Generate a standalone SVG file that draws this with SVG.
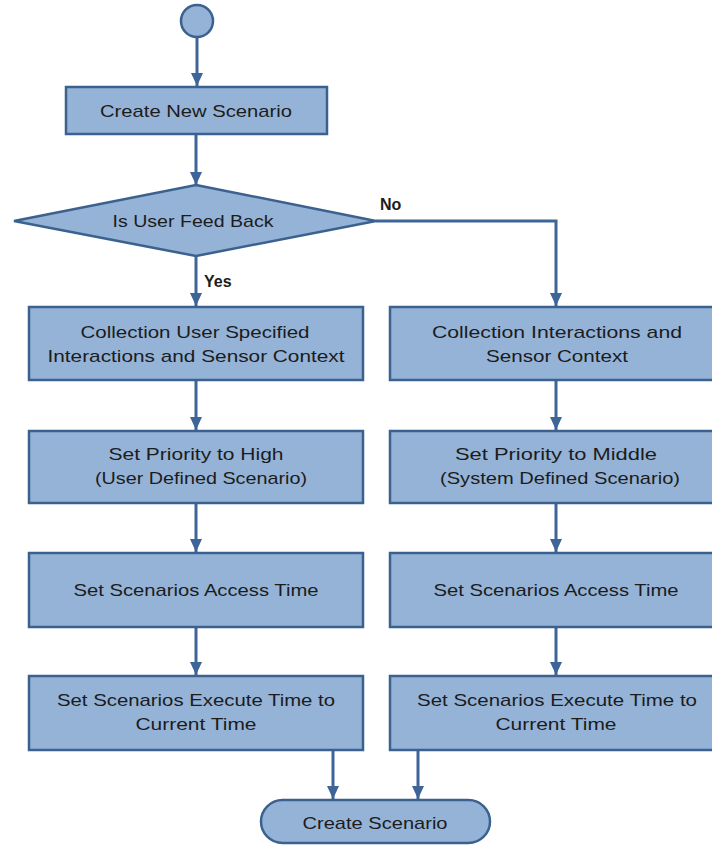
<svg xmlns="http://www.w3.org/2000/svg" width="712" height="845" viewBox="0 0 712 845">
  <style>
    .shape { fill: #95b3d7; stroke: #3b618f; stroke-width: 2.5; }
    .wire { fill: none; stroke: #3d6598; stroke-width: 3; }
    .label { font-family: "Liberation Sans", Arial, sans-serif; font-size: 17px; fill: #1c1c1c; text-anchor: middle; }
    .branch { font-family: "Liberation Sans", Arial, sans-serif; font-size: 16px; font-weight: bold; fill: #1c1c1c; }
  </style>
  <defs>
    <marker id="arrow" markerUnits="userSpaceOnUse" markerWidth="14" markerHeight="12" refX="13" refY="6" orient="auto">
      <path d="M0,0 L13,6 L0,12 Z" fill="#3d6598"/>
    </marker>
  </defs>
  <rect width="712" height="845" fill="#ffffff"/>

  <!-- connectors -->
  <g id="connectors" class="wire" marker-end="url(#arrow)">
    <line x1="197" y1="37" x2="197" y2="86"/>
    <line x1="196" y1="135" x2="196" y2="185"/>
    <line x1="196" y1="257" x2="196" y2="306"/>
    <polyline points="376,221 556,221 556,306"/>
    <line x1="196" y1="381" x2="196" y2="430"/>
    <line x1="556" y1="381" x2="556" y2="430"/>
    <line x1="196" y1="504" x2="196" y2="552"/>
    <line x1="556" y1="504" x2="556" y2="552"/>
    <line x1="196" y1="628" x2="196" y2="675"/>
    <line x1="556" y1="628" x2="556" y2="675"/>
    <line x1="333" y1="751" x2="333" y2="799"/>
    <line x1="418" y1="751" x2="418" y2="799"/>
  </g>

  <!-- start -->
  <g id="start">
    <circle class="shape" cx="197" cy="21" r="16"/>
  </g>

  <g id="create-new">
    <rect class="shape" x="66" y="87" width="261" height="47"/>
    <text class="label" x="196" y="117" textLength="192" lengthAdjust="spacingAndGlyphs">Create New Scenario</text>
  </g>

  <g id="decision">
    <polygon class="shape" points="196,185 376,221 196,256 14,221"/>
    <text class="label" x="193" y="227" textLength="161" lengthAdjust="spacingAndGlyphs">Is User Feed Back</text>
    <text class="branch" x="380" y="210">No</text>
    <text class="branch" x="204" y="287">Yes</text>
  </g>

  <!-- user-defined branch -->
  <g id="collect-user">
    <rect class="shape" x="29" y="307" width="334" height="73"/>
    <text class="label" x="195" y="338" textLength="229" lengthAdjust="spacingAndGlyphs">Collection User Specified</text>
    <text class="label" x="196" y="362" textLength="297" lengthAdjust="spacingAndGlyphs">Interactions and Sensor Context</text>
  </g>
  <g id="priority-high">
    <rect class="shape" x="29" y="431" width="334" height="72"/>
    <text class="label" x="196" y="460" textLength="175" lengthAdjust="spacingAndGlyphs">Set Priority to High</text>
    <text class="label" x="201" y="484" textLength="212" lengthAdjust="spacingAndGlyphs">(User Defined Scenario)</text>
  </g>
  <g id="access-left">
    <rect class="shape" x="29" y="553" width="334" height="74"/>
    <text class="label" x="196" y="596" textLength="245" lengthAdjust="spacingAndGlyphs">Set Scenarios Access Time</text>
  </g>
  <g id="execute-left">
    <rect class="shape" x="29" y="676" width="334" height="74"/>
    <text class="label" x="196" y="706" textLength="278" lengthAdjust="spacingAndGlyphs">Set Scenarios Execute Time to</text>
    <text class="label" x="196" y="730" textLength="121" lengthAdjust="spacingAndGlyphs">Current Time</text>
  </g>

  <!-- system-defined branch -->
  <g id="collect-system">
    <rect class="shape" x="390" y="307" width="332" height="73"/>
    <text class="label" x="557" y="338" textLength="250" lengthAdjust="spacingAndGlyphs">Collection Interactions and</text>
    <text class="label" x="557" y="362" textLength="142" lengthAdjust="spacingAndGlyphs">Sensor Context</text>
  </g>
  <g id="priority-middle">
    <rect class="shape" x="390" y="431" width="332" height="72"/>
    <text class="label" x="556" y="460" textLength="202" lengthAdjust="spacingAndGlyphs">Set Priority to Middle</text>
    <text class="label" x="560" y="484" textLength="240" lengthAdjust="spacingAndGlyphs">(System Defined Scenario)</text>
  </g>
  <g id="access-right">
    <rect class="shape" x="390" y="553" width="332" height="74"/>
    <text class="label" x="556" y="596" textLength="245" lengthAdjust="spacingAndGlyphs">Set Scenarios Access Time</text>
  </g>
  <g id="execute-right">
    <rect class="shape" x="390" y="676" width="332" height="74"/>
    <text class="label" x="557" y="706" textLength="280" lengthAdjust="spacingAndGlyphs">Set Scenarios Execute Time to</text>
    <text class="label" x="556" y="730" textLength="121" lengthAdjust="spacingAndGlyphs">Current Time</text>
  </g>

  <!-- end -->
  <g id="create-scenario">
    <rect class="shape" x="261" y="800" width="229" height="43" rx="21.5"/>
    <text class="label" x="375" y="829" textLength="145" lengthAdjust="spacingAndGlyphs">Create Scenario</text>
  </g>
</svg>
